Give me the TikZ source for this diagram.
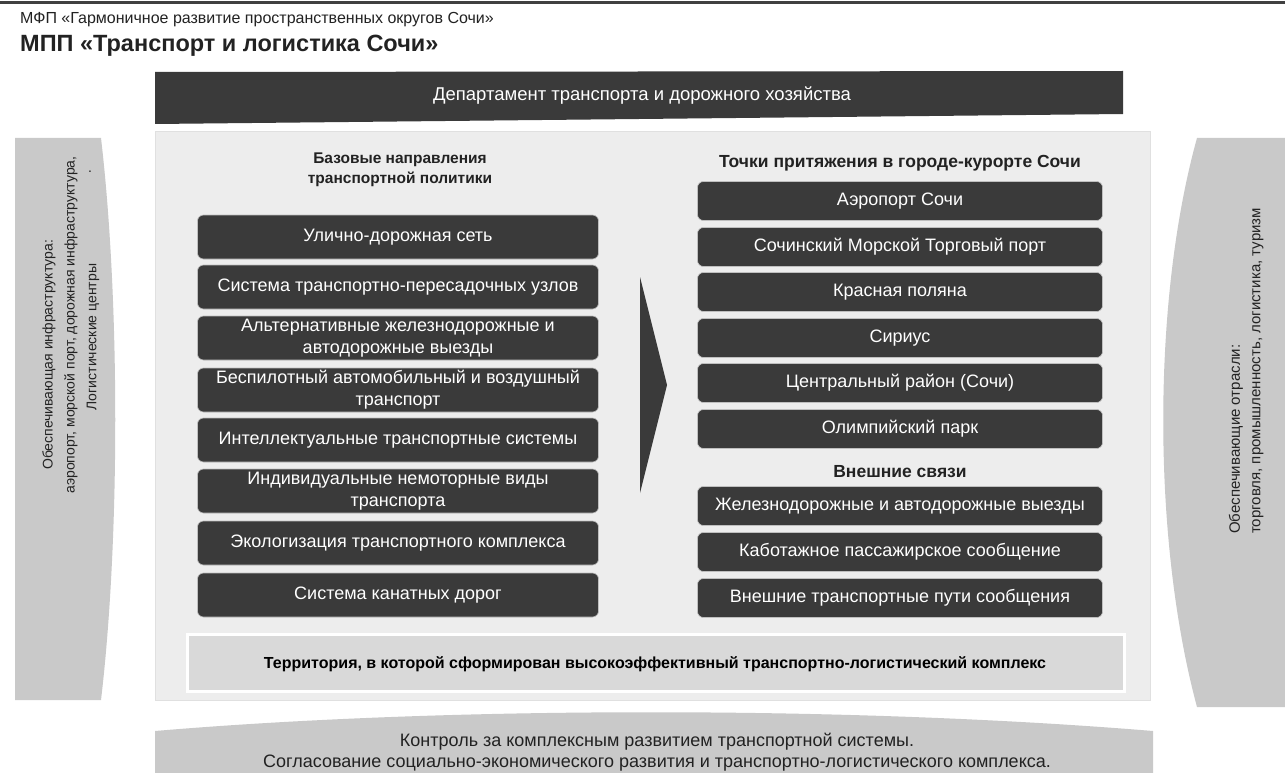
\documentclass[tikz,border=0pt]{standalone}
\usepackage{fontspec}
\setmainfont{Liberation Sans}
\definecolor{boxdark}{HTML}{3A3A3A}
\definecolor{panel}{HTML}{EDEDED}
\definecolor{sidegray}{HTML}{C9C9C9}
\definecolor{terr}{HTML}{D9D9D9}
\definecolor{ink}{HTML}{222222}
\begin{document}
\begin{tikzpicture}[x=1pt,y=-1pt,
  dbox/.style={draw=white!75!black, line width=0.6pt, fill=boxdark, rounded corners=6pt,
    text=white, font=\fontsize{18}{22}\selectfont, align=center, inner sep=0pt},
  lbox/.style={dbox, minimum width=401pt, minimum height=44pt},
  rbox/.style={dbox, minimum width=405pt, minimum height=39pt},
  head/.style={text=ink, font=\fontsize{17.5}{21}\selectfont\bfseries, align=center, inner sep=0pt},
  side/.style={text=ink, font=\fontsize{14}{17}\selectfont, inner sep=0pt, rotate=90}
]
\useasboundingbox (0,0) rectangle (1285,773);
\fill[white] (0,0) rectangle (1285,773);
% top rule
\fill[black!75] (0,1) rectangle (1285,4);
% titles
\node[anchor=west, text=ink, font=\fontsize{16}{18}\selectfont, inner sep=0pt] (t1) at (20,20)
  {МФП «Гармоничное развитие пространственных округов Сочи»};
\node[anchor=west, text=ink, font=\fontsize{23.5}{26}\selectfont\bfseries, inner sep=0pt] (t2) at (20,46)
  {МПП «Транспорт и логистика Сочи»};
% top banner
\fill[boxdark] (155,72) -- (1123,71) -- (1123,114) -- (155,124) -- cycle;
\node[text=white, font=\fontsize{18.5}{21}\selectfont, inner sep=0pt] (dep) at (642,96)
  {Департамент транспорта и дорожного хозяйства};
% side shapes
\fill[sidegray] (15,138) -- (101,138) .. controls (120,300) and (120,540) .. (101,700) -- (15,700) -- cycle;
\fill[sidegray] (1197,138) -- (1285,138) -- (1285,707) -- (1197,707) .. controls (1152,540) and (1152,300) .. (1197,138) -- cycle;
% central panel
\filldraw[fill=panel, draw=black!12, line width=0.8pt] (155,131) rectangle (1150,700);
% bottom banner
\fill[sidegray] (155,731) .. controls (450,706) and (850,706) .. (1153,731) -- (1153,773) -- (155,773) -- cycle;
% territory box
\filldraw[fill=terr, draw=white, line width=3pt] (187,634) rectangle (1124,691);
\node[text=black, font=\fontsize{16}{19}\selectfont\bfseries, inner sep=0pt] (terrtxt) at (655,664)
  {Территория, в которой сформирован высокоэффективный транспортно-логистический комплекс};
% bottom banner text
\node[text=ink, font=\fontsize{18}{21}\selectfont, align=center, inner sep=0pt] (ctrl) at (657,752)
  {Контроль за комплексным развитием транспортной системы.\\Согласование социально-экономического развития и транспортно-логистического комплекса.};
% left side text
\node[side, anchor=center] (ls1) at (49,355) {Обеспечивающая инфраструктура:};
\node[side, anchor=center] (ls2) at (71,325) {аэропорт, морской порт, дорожная инфраструктура,};
\node[side, anchor=center] (ls3) at (93,337) {Логистические центры};
\node[text=ink, font=\fontsize{14}{17}\selectfont, inner sep=0pt] (dot) at (90,172) {.};
% right side text
\node[side, anchor=west, font=\fontsize{15}{17}\selectfont] (rs1) at (1236,534) {Обеспечивающие отрасли:};
\node[side, anchor=west, font=\fontsize{15}{17}\selectfont] (rs2) at (1258,534) {торговля, промышленность, логистика, туризм};
% headers
\node[head, font=\fontsize{15.5}{20}\selectfont\bfseries] (lh) at (400,170) {Базовые направления\\транспортной политики};
\node[head] (rh) at (900,163) {Точки притяжения в городе-курорте Сочи};
\node[head] (ext) at (900,472) {Внешние связи};
% left boxes
\node[lbox] (l1) at (398,237) {Улично-дорожная сеть};
\node[lbox] (l2) at (398,287) {Система транспортно-пересадочных узлов};
\node[lbox] (l3) at (398,338) {Альтернативные железнодорожные и\\автодорожные выезды};
\node[lbox] (l4) at (398,390) {Беспилотный автомобильный и воздушный\\транспорт};
\node[lbox] (l5) at (398,440) {Интеллектуальные транспортные системы};
\node[lbox] (l6) at (398,491) {Индивидуальные немоторные виды\\транспорта};
\node[lbox] (l7) at (398,543) {Экологизация транспортного комплекса};
\node[lbox] (l8) at (398,595) {Система канатных дорог};
% arrow
\fill[boxdark] (640,277) -- (667,385) -- (640,493) -- cycle;
% right boxes
\node[rbox] (r1) at (900,201) {Аэропорт Сочи};
\node[rbox] (r2) at (900,247) {Сочинский Морской Торговый порт};
\node[rbox] (r3) at (900,292) {Красная поляна};
\node[rbox] (r4) at (900,338) {Сириус};
\node[rbox] (r5) at (900,383) {Центральный район (Сочи)};
\node[rbox] (r6) at (900,429) {Олимпийский парк};
\node[rbox] (r7) at (900,506) {Железнодорожные и автодорожные выезды};
\node[rbox] (r8) at (900,552) {Каботажное пассажирское сообщение};
\node[rbox] (r9) at (900,598) {Внешние транспортные пути сообщения};
\end{tikzpicture}
\end{document}
